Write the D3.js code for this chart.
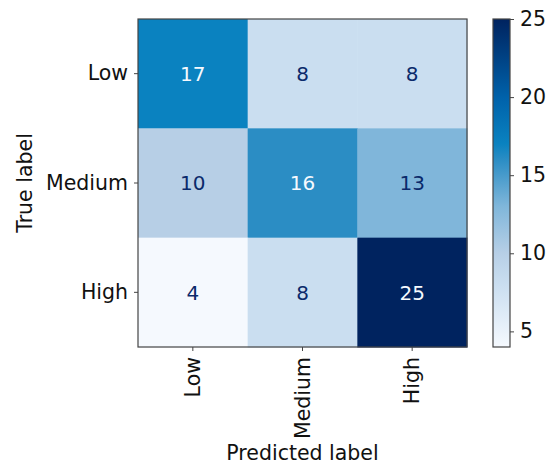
<!DOCTYPE html>
<html>
<head>
<meta charset="utf-8">
<script src="https://cdn.jsdelivr.net/npm/d3@7"></script>
<style>
  body { margin: 0; background: #fff; }
  svg text { font-family: "DejaVu Sans", sans-serif; }
</style>
</head>
<body>
<div id="chart"></div>
<script>
const labels = ['Low', 'Medium', 'High']
const matrix = [
  [17, 8, 8],
  [10, 16, 13],
  [4, 8, 25]
]
const colorbarTicks = [5, 10, 15, 20, 25]

// blues ramp as it looks in the picture (a bit more saturated than plain Blues)
const rampPos = [0, 0.19, 0.286, 0.43, 0.571, 0.619, 0.76, 1]
const rampCol = ['#f5f9fe', '#cadef0', '#b7cfe6', '#7fb6da', '#2b8dc4', '#0a82c0', '#0062aa', '#00235f']
const lightText = '#f5f9fe', darkText = '#0a2a6b'

const width = 551, height = 466
const plotLeft = 138, plotTop = 19, plotW = 329, plotH = 328
const vmin = 4, vmax = 25

const svg = d3.select('#chart').append('svg')
  .attr('width', width)
  .attr('height', height)

const ramp = d3.scaleLinear().domain(rampPos).range(rampCol).interpolate(d3.interpolateRgb)
const color = v => ramp((v - vmin) / (vmax - vmin))

const x = d3.scaleBand().domain(labels).range([plotLeft, plotLeft + plotW])
const y = d3.scaleBand().domain(labels).range([plotTop, plotTop + plotH])

const cells = []
matrix.forEach((row, i) => row.forEach((v, j) => cells.push({ r: labels[i], c: labels[j], v })))

svg.append('g').selectAll('rect')
  .data(cells)
  .join('rect')
  .attr('x', d => x(d.c))
  .attr('y', d => y(d.r))
  .attr('width', x.bandwidth() + 0.5)
  .attr('height', y.bandwidth() + 0.5)
  .attr('fill', d => color(d.v))

const thresh = (vmin + vmax) / 2
svg.append('g').selectAll('text')
  .data(cells)
  .join('text')
  .attr('x', d => x(d.c) + x.bandwidth() / 2)
  .attr('y', d => y(d.r) + y.bandwidth() / 2)
  .attr('dy', '0.36em')
  .attr('text-anchor', 'middle')
  .attr('font-size', 20)
  .attr('fill', d => d.v > thresh ? lightText : darkText)
  .text(d => d.v)

svg.append('rect')
  .attr('x', plotLeft).attr('y', plotTop)
  .attr('width', plotW).attr('height', plotH)
  .attr('fill', 'none')
  .attr('stroke', '#444')
  .attr('stroke-width', 1.2)

// y axis
const yAxis = svg.append('g')
  .attr('transform', `translate(${plotLeft},0)`)
  .call(d3.axisLeft(y).tickSize(4).tickPadding(6))
yAxis.select('.domain').remove()
yAxis.selectAll('text').attr('font-size', 20.5).attr('fill', '#111').attr('font-family', '"DejaVu Sans", sans-serif')
yAxis.selectAll('line').attr('stroke', '#444')

// x axis
const xAxis = svg.append('g')
  .attr('transform', `translate(0,${plotTop + plotH})`)
  .call(d3.axisBottom(x).tickSize(4).tickPadding(6))
xAxis.select('.domain').remove()
xAxis.selectAll('line').attr('stroke', '#444')
xAxis.selectAll('text')
  .attr('font-size', 20.5)
  .attr('fill', '#111')
  .attr('font-family', '"DejaVu Sans", sans-serif')
  .attr('text-anchor', 'end')
  .attr('dy', '0.35em')
  .attr('transform', 'rotate(-90)')
  .attr('x', -10)
  .attr('y', 0)

svg.append('text')
  .attr('x', plotLeft + plotW / 2)
  .attr('y', 460)
  .attr('text-anchor', 'middle')
  .attr('font-size', 20.5)
  .attr('fill', '#111')
  .text('Predicted label')

svg.append('text')
  .attr('transform', `translate(32,${plotTop + plotH / 2}) rotate(-90)`)
  .attr('text-anchor', 'middle')
  .attr('font-size', 20.5)
  .attr('fill', '#111')
  .text('True label')

// colorbar
const cbX = 493, cbW = 17
const cbScale = d3.scaleLinear().domain([vmin, vmax]).range([plotTop + plotH, plotTop])

const grad = svg.append('defs').append('linearGradient')
  .attr('id', 'cbgrad')
  .attr('x1', 0).attr('y1', 1).attr('x2', 0).attr('y2', 0)
grad.selectAll('stop')
  .data(rampPos)
  .join('stop')
  .attr('offset', d => d)
  .attr('stop-color', (d, i) => rampCol[i])

svg.append('rect')
  .attr('x', cbX).attr('y', plotTop)
  .attr('width', cbW).attr('height', plotH)
  .attr('fill', 'url(#cbgrad)')
  .attr('stroke', '#444')
  .attr('stroke-width', 1.2)

const cbAxis = svg.append('g')
  .attr('transform', `translate(${cbX + cbW},0)`)
  .call(d3.axisRight(cbScale).tickValues(colorbarTicks).tickSize(4).tickPadding(6))
cbAxis.select('.domain').remove()
cbAxis.selectAll('line').attr('stroke', '#444')
cbAxis.selectAll('text').attr('font-size', 20.5).attr('fill', '#111').attr('font-family', '"DejaVu Sans", sans-serif')
</script>
</body>
</html>
